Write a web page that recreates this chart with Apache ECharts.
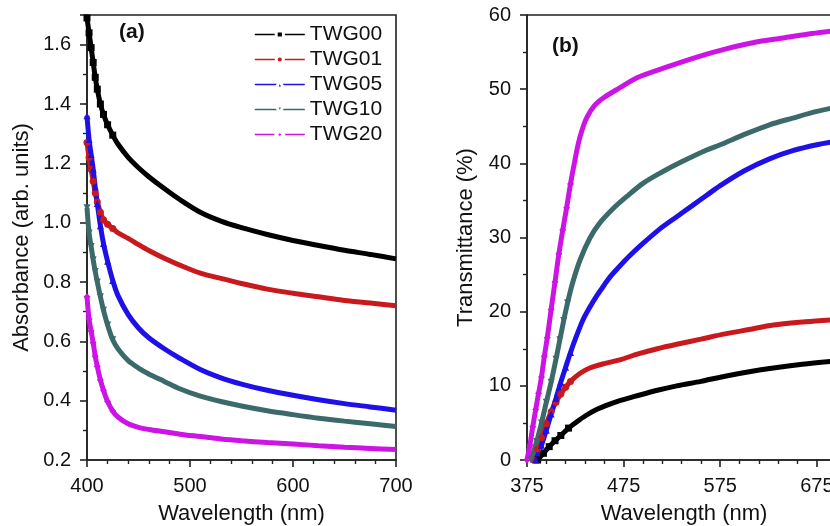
<!DOCTYPE html>
<html>
<head>
<meta charset="utf-8">
<script src="https://cdn.jsdelivr.net/npm/echarts@6/dist/echarts.min.js"></script>
<style>html,body{margin:0;padding:0;background:#fff;}#c{width:830px;height:526px;}</style>
</head>
<body>
<div id="c"></div>
<script>
// ---------- Panel (a): Absorbance ----------
const wlA = [400, 402, 404, 406, 408, 410, 413, 416, 420, 425, 430, 440, 450, 460, 475, 490, 510, 530, 550, 575, 600, 625, 650, 675, 700];
const absTWG00 = [1.69, 1.64, 1.59, 1.54, 1.49, 1.45, 1.40, 1.365, 1.33, 1.295, 1.265, 1.22, 1.185, 1.155, 1.115, 1.078, 1.035, 1.005, 0.983, 0.96, 0.94, 0.923, 0.907, 0.893, 0.878];
const absTWG01 = [1.27, 1.22, 1.18, 1.14, 1.10, 1.07, 1.035, 1.01, 0.995, 0.98, 0.966, 0.947, 0.926, 0.906, 0.88, 0.857, 0.83, 0.812, 0.795, 0.776, 0.762, 0.75, 0.738, 0.729, 0.72];
const absTWG05 = [1.36, 1.28, 1.23, 1.18, 1.12, 1.065, 0.99, 0.93, 0.87, 0.805, 0.755, 0.69, 0.645, 0.612, 0.575, 0.543, 0.505, 0.477, 0.456, 0.435, 0.418, 0.403, 0.39, 0.379, 0.368];
const absTWG10 = [1.05, 0.965, 0.92, 0.875, 0.835, 0.80, 0.75, 0.705, 0.655, 0.605, 0.575, 0.535, 0.51, 0.49, 0.465, 0.44, 0.415, 0.397, 0.382, 0.366, 0.353, 0.341, 0.331, 0.322, 0.313];
const absTWG20 = [0.75, 0.675, 0.635, 0.595, 0.55, 0.515, 0.47, 0.435, 0.397, 0.365, 0.345, 0.322, 0.31, 0.303, 0.295, 0.287, 0.279, 0.271, 0.265, 0.259, 0.254, 0.248, 0.243, 0.239, 0.235];

// ---------- Panel (b): Transmittance ----------
const wlB00 = [386, 392, 398, 404, 410, 418, 426, 436, 447, 460, 471, 490, 510, 530, 555, 580, 605, 630, 660, 690, 700];
const trTWG00 = [0, 0.9, 1.8, 2.6, 3.3, 4.3, 5.1, 6.0, 6.8, 7.5, 8.0, 8.7, 9.4, 10.0, 10.6, 11.3, 11.9, 12.4, 12.9, 13.3, 13.4];
const wlB01 = [382, 386, 390, 395, 400, 405, 410, 415, 420, 430, 440, 455, 471, 490, 510, 530, 555, 580, 605, 630, 660, 690, 700];
const trTWG01 = [0, 1.5, 3.0, 4.9, 6.5, 7.8, 8.9, 9.8, 10.6, 11.7, 12.4, 13.0, 13.5, 14.3, 15.0, 15.6, 16.3, 17.0, 17.6, 18.2, 18.6, 18.9, 19.0];
const wlB05 = [384, 390, 395, 400, 405, 410, 415, 420, 425, 433, 440, 447, 455, 461, 470, 481, 495, 512, 530, 545, 561, 575, 600, 626, 650, 675, 700];
const trTWG05 = [0, 2.0, 4.0, 6.2, 8.3, 10.5, 12.5, 14.5, 16.3, 18.9, 20.6, 22.1, 23.6, 24.7, 26.0, 27.5, 29.2, 31.1, 32.8, 34.2, 35.7, 37.0, 39.0, 40.6, 41.7, 42.5, 43.1];
const wlB10 = [379, 385, 390, 395, 400, 405, 409, 413, 417, 422, 430, 440, 450, 465, 478, 495, 513, 535, 561, 575, 600, 626, 650, 675, 700];
const trTWG10 = [0, 2.5, 5.0, 7.8, 10.5, 13.6, 16.2, 18.8, 21.2, 23.8, 27.0, 29.9, 31.9, 34.0, 35.5, 37.3, 38.7, 40.2, 41.8, 42.5, 43.9, 45.2, 46.1, 47.0, 47.7];
const wlB20 = [375, 378, 381, 384, 387, 390, 393, 396, 400, 404, 408, 412, 416, 420, 424, 428, 432, 437, 445, 455, 470, 490, 520, 550, 580, 610, 640, 670, 700];
const trTWG20 = [0, 2.0, 4.5, 6.8, 9.0, 11.2, 14.0, 16.5, 20.3, 24.0, 27.8, 31.0, 34.0, 37.2, 40.0, 42.6, 44.5, 46.2, 47.8, 48.9, 50.1, 51.6, 53.0, 54.3, 55.4, 56.3, 56.9, 57.5, 58.0];

const names = ['TWG00', 'TWG01', 'TWG05', 'TWG10', 'TWG20'];
const colors = ['#000000', '#c81a1c', '#1e10e6', '#3c6a6a', '#cc14e4'];
const symbols = ['rect', 'circle', 'triangle', 'triangle', 'diamond'];
const rotates = [0, 0, 0, 180, 0];

const absSets = [absTWG00, absTWG01, absTWG05, absTWG10, absTWG20];
const wlBSets = [wlB00, wlB01, wlB05, wlB10, wlB20];
const trSets = [trTWG00, trTWG01, trTWG05, trTWG10, trTWG20];

const zip = (xs, ys) => xs.map((x, i) => [x, ys[i]]);

const FONT = '"Liberation Sans", Arial, sans-serif';
const AX = '#222';

function xAxisCfg(gi, min, max, showMax) {
  return {
    type: 'value', gridIndex: gi, min: min, max: max, interval: 100,
    name: 'Wavelength (nm)', nameLocation: 'middle', nameGap: 43,
    nameTextStyle: { fontFamily: FONT, fontSize: 22, color: '#111' },
    axisLine: { show: true, lineStyle: { color: AX, width: 1.6 } },
    axisTick: { show: true, inside: false, length: 7, lineStyle: { color: AX, width: 1.6 } },
    minorTick: { show: true, splitNumber: 5, length: 4, lineStyle: { color: AX, width: 1.4 } },
    axisLabel: { fontFamily: FONT, fontSize: 20, color: '#111', margin: 16, showMaxLabel: showMax },
    splitLine: { show: false }, minorSplitLine: { show: false }
  };
}
function yAxisCfg(gi, min, max, interval, name, gap, fmt, showMax, margin) {
  return {
    type: 'value', gridIndex: gi, min: min, max: max, interval: interval,
    name: name, nameLocation: 'middle', nameGap: gap, nameRotate: 90,
    nameTextStyle: { fontFamily: FONT, fontSize: 22, color: '#111' },
    axisLine: { show: true, lineStyle: { color: AX, width: 1.6 } },
    axisTick: { show: true, inside: false, length: 7, lineStyle: { color: AX, width: 1.6 } },
    minorTick: { show: true, splitNumber: 2, length: 4, lineStyle: { color: AX, width: 1.4 } },
    axisLabel: { fontFamily: FONT, fontSize: 20, color: '#111', margin: margin, formatter: fmt, showMaxLabel: showMax },
    splitLine: { show: false }, minorSplitLine: { show: false }
  };
}

const series = [];
names.forEach((n, i) => {
  series.push({
    name: n, type: 'line', xAxisIndex: 0, yAxisIndex: 0,
    data: zip(wlA, absSets[i]),
    smooth: 0.3,
    symbol: symbols[i], symbolRotate: rotates[i],
    symbolSize: (v) => (v[0] <= 425 ? 7 : 0),
    lineStyle: { color: colors[i], width: 5 },
    itemStyle: { color: colors[i] },
    emphasis: { disabled: true }, animation: false
  });
});
names.forEach((n, i) => {
  series.push({
    name: n, type: 'line', xAxisIndex: 1, yAxisIndex: 1,
    data: zip(wlBSets[i], trSets[i]),
    smooth: 0.3,
    symbol: symbols[i], symbolRotate: rotates[i],
    symbolSize: (v) => (v[0] <= 420 ? 7 : 0),
    lineStyle: { color: colors[i], width: 5 },
    itemStyle: { color: colors[i] },
    emphasis: { disabled: true }, animation: false
  });
});

const chart = echarts.init(document.getElementById('c'), null, { renderer: 'canvas' });
chart.setOption({
  backgroundColor: '#ffffff',
  animation: false,
  grid: [
    { left: 87, top: 15, width: 309, height: 445, show: true, borderColor: AX, borderWidth: 1.6, backgroundColor: 'transparent', containLabel: false, outerBoundsMode: 'none' },
    { left: 527, top: 15, width: 314, height: 445, show: true, borderColor: AX, borderWidth: 1.6, backgroundColor: 'transparent', containLabel: false, outerBoundsMode: 'none' }
  ],
  xAxis: [xAxisCfg(0, 400, 700, true), xAxisCfg(1, 375, 700, false)],
  yAxis: [
    yAxisCfg(0, 0.2, 1.7, 0.2, 'Absorbance (arb. units)', 54, (v) => v.toFixed(1), false, 16),
    yAxisCfg(1, 0, 60, 10, 'Transmittance (%)', 50, (v) => String(v), true, 16)
  ],
  legend: {
    data: names, orient: 'vertical', left: 254, top: 24, padding: 0,
    itemWidth: 50, itemHeight: 9, itemGap: 4,
    lineStyle: { width: 1.6 },
    itemStyle: { borderColor: '#ffffff', borderWidth: 3 },
    textStyle: { fontFamily: FONT, fontSize: 21, color: '#111', lineHeight: 20 },
    selectedMode: false
  },
  graphic: [
    { type: 'text', left: 119, top: 22, style: { text: '(a)', font: 'bold 21px ' + FONT, fill: '#111' } },
    { type: 'text', left: 552, top: 36, style: { text: '(b)', font: 'bold 21px ' + FONT, fill: '#111' } }
  ],
  series: series
});
</script>
</body>
</html>
